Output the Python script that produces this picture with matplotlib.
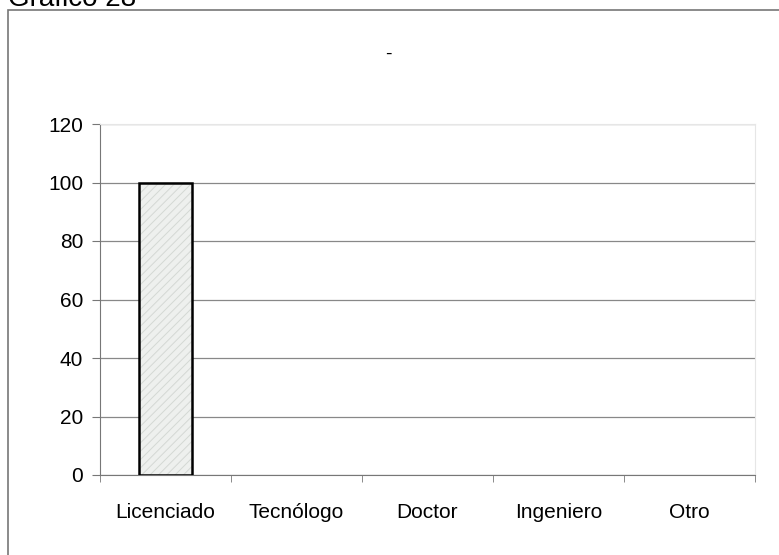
import matplotlib.pyplot as plt
from matplotlib.patches import Rectangle

categorias = ['Licenciado', 'Tecnólogo', 'Doctor', 'Ingeniero', 'Otro']
valores = [100, 0, 0, 0, 0]
y_ticks = [0, 20, 40, 60, 80, 100, 120]

plt.rcParams['font.family'] = ['Liberation Sans', 'DejaVu Sans']
plt.rcParams['hatch.linewidth'] = 0.7

fig = plt.figure(figsize=(7.79, 5.55), dpi=100)
W, H = 779, 555

# outer chart frame
fig.patches.append(Rectangle((8 / W, -0.02), 1.1, 1 - 10 / H + 0.02, transform=fig.transFigure,
                             fill=False, edgecolor='#777777', linewidth=1.2))
fig.text(8 / W, 1 - 6 / H, 'Gráfico 28', fontsize=20, va='baseline', ha='left')
fig.text(388 / W, 1 - 54 / H, '-', fontsize=14, ha='center', va='center')

ax = fig.add_axes([100 / W, 1 - 475 / H, 655 / W, 351 / H])
x = list(range(len(categorias)))
# light hatched fill, then black outline on top
ax.bar(x, valores, width=0.4, facecolor='#eef0ee', edgecolor='#d4d8d4',
       linewidth=0, hatch='////', zorder=3)
bordes = ['black' if v > 0 else 'none' for v in valores]
ax.bar(x, valores, width=0.4, fill=False, edgecolor=bordes, linewidth=1.8, zorder=4)

ax.set_xlim(-0.5, len(categorias) - 0.5)
ax.set_ylim(0, 120)
ax.set_yticks(y_ticks)
ax.set_xticks(x)
ax.set_xticklabels(categorias)
ax.set_xticks([i - 0.5 for i in range(len(categorias) + 1)], minor=True)
ax.tick_params(axis='x', which='major', length=0, pad=20, labelsize=15)
ax.tick_params(axis='x', which='minor', length=5, color='#777777', direction='out')
ax.tick_params(axis='y', length=6, color='#777777', labelsize=15, pad=6)
ax.yaxis.grid(True, color='#888888', linewidth=0.9, zorder=0)

for side in ['left', 'bottom']:
    ax.spines[side].set_color('#777777')
for side in ['top', 'right']:
    ax.spines[side].set_color('#e6e6e6')

plt.savefig('out.png', dpi=100)
